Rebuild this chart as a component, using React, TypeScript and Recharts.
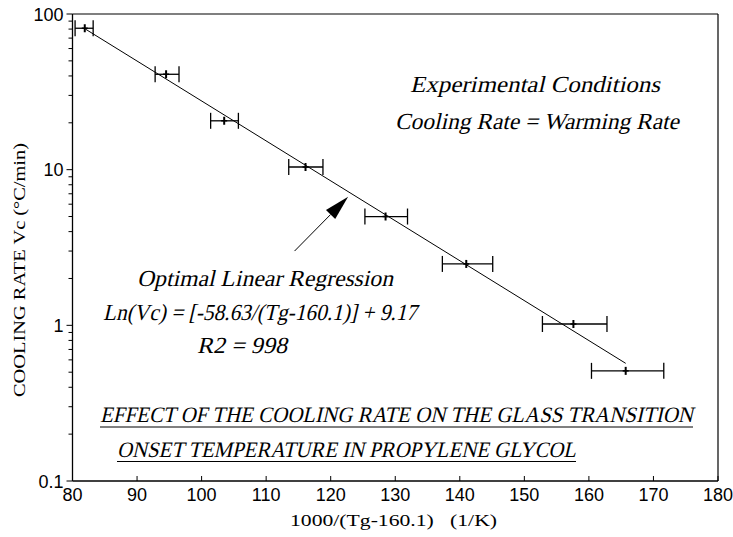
import React from 'react';
import { ScatterChart, Scatter, XAxis, YAxis, ErrorBar, ReferenceLine, Customized } from 'recharts';

// Measured points: x = 1000/(Tg-160.1), y = cooling rate (°C/min)
const rateX = [81.9, 94.5, 103.5, 116.1, 128.5, 141.0, 157.6, 165.7];
const rateY = [81, 41, 20.6, 10.4, 5.0, 2.48, 1.02, 0.51];
const errLow = [1.5, 1.7, 2.1, 2.6, 3.2, 3.7, 4.8, 5.3];
const errHigh = [1.3, 2.0, 2.2, 2.7, 3.4, 4.1, 5.2, 5.9];

// Regression line end points
const fitX = [82, 165.7];
const fitY = [80, 0.57];

// Arrow (tail -> tip)
const arrowX = [114.4, 122.7];
const arrowY = [3.0, 6.7];

const xTicks = [80, 90, 100, 110, 120, 130, 140, 150, 160, 170, 180];
const yMajor = [0.1, 1, 10, 100];
const yTicks = [
  0.1, 0.2, 0.3, 0.4, 0.5, 0.6, 0.7, 0.8, 0.9,
  1, 2, 3, 4, 5, 6, 7, 8, 9,
  10, 20, 30, 40, 50, 60, 70, 80, 90,
  100,
];

const points = rateX.map((x, i) => ({ x, y: rateY[i], err: [errLow[i], errHigh[i]] }));
const fitLine = fitX.map((x, i) => ({ x, y: fitY[i] }));

const W = 733;
const H = 537;
const M = { top: 14, right: 15, bottom: 0, left: 0 };
const YW = 72.5;
const XH = 56;
const PL = M.left + YW;
const PR = W - M.right;
const PT = M.top;
const PB = H - M.bottom - XH;

const sans = "'Liberation Sans', Arial, sans-serif";
const serif = "'Liberation Serif', 'Times New Roman', serif";

const YTick = (props: any) => {
  const { x, y, payload } = props;
  const v = payload.value;
  const major = yMajor.includes(v);
  return (
    <g>
      <line x1={x - (major ? 6 : 4)} x2={x} y1={y} y2={y} stroke="#000" strokeWidth={1} />
      {major && (
        <text x={x - 9} y={y + 6.5} textAnchor="end" fontSize={18} fontFamily={sans} fill="#000">
          {String(v)}
        </text>
      )}
    </g>
  );
};

const XTick = (props: any) => {
  const { x, y, payload } = props;
  return (
    <g>
      <line x1={x} x2={x} y1={y - 5} y2={y} stroke="#000" strokeWidth={1} />
      <text x={x} y={y + 20} textAnchor="middle" fontSize={18} fontFamily={sans} fill="#000">
        {String(payload.value)}
      </text>
    </g>
  );
};

const PlusMark = (props: any) => {
  const { cx, cy } = props;
  return (
    <g>
      <line x1={cx} x2={cx} y1={cy - 4} y2={cy + 4} stroke="#000" strokeWidth={2} />
      <line x1={cx - 3} x2={cx + 3} y1={cy} y2={cy} stroke="#000" strokeWidth={1.5} />
    </g>
  );
};

const Arrow = (props: any) => {
  const { x1, y1, x2, y2 } = props;
  const dx = x2 - x1;
  const dy = y2 - y1;
  const len = Math.sqrt(dx * dx + dy * dy) || 1;
  const ux = dx / len;
  const uy = dy / len;
  const headLen = 25;
  const headW = 6.5;
  const bx = x2 - ux * headLen;
  const by = y2 - uy * headLen;
  const px = -uy;
  const py = ux;
  return (
    <g>
      <line x1={x1} y1={y1} x2={bx} y2={by} stroke="#000" strokeWidth={1} />
      <polygon
        points={`${x2},${y2} ${bx + px * headW},${by + py * headW} ${bx - px * headW},${by - py * headW}`}
        fill="#000"
      />
    </g>
  );
};

// Slanted serif text (synthetic italic) with fixed width
const itext = (x: number, y: number, w: number, s: string, size: number, key: string) => (
  <g key={key} transform={`translate(${x} ${y}) skewX(-13)`}>
    <text
      x={0}
      y={0}
      fontSize={size}
      fontFamily={serif}
      fill="#000"
      textLength={w}
      lengthAdjust="spacingAndGlyphs"
    >
      {s}
    </text>
  </g>
);

const Annotations = () => (
  <g>
    <line x1={PL} x2={PR} y1={PT} y2={PT} stroke="#000" strokeWidth={1.2} />
    <line x1={PR} x2={PR} y1={PT} y2={PB} stroke="#000" strokeWidth={1.2} />
    {itext(410, 92, 250, 'Experimental Conditions', 23, 'a')}
    {itext(395, 129, 284, 'Cooling Rate = Warming Rate', 23, 'b')}
    {itext(137, 286, 256, 'Optimal Linear Regression', 23, 'c')}
    {itext(103, 320, 314, 'Ln(Vc) = [-58.63/(Tg-160.1)] + 9.17', 23, 'd')}
    {itext(197, 353, 90, 'R2 = 998', 23, 'e')}
    {itext(100, 422, 593, 'EFFECT OF THE COOLING RATE ON THE GLASS TRANSITION', 22, 'f')}
    <line x1={100} x2={693} y1={427} y2={427} stroke="#000" strokeWidth={1} />
    {itext(117, 457, 459, 'ONSET TEMPERATURE IN PROPYLENE GLYCOL', 22, 'g')}
    <line x1={117} x2={576} y1={461.5} y2={461.5} stroke="#000" strokeWidth={1} />
    <text
      x={25}
      y={270}
      transform="rotate(-90 25 270)"
      textAnchor="middle"
      fontSize={16}
      fontFamily={serif}
      fill="#000"
      textLength={254}
      lengthAdjust="spacingAndGlyphs"
    >
      COOLING RATE Vc (°C/min)
    </text>
    <text
      x={393.5}
      y={526}
      textAnchor="middle"
      fontSize={17}
      fontFamily={serif}
      fill="#000"
      textLength={207}
      lengthAdjust="spacingAndGlyphs"
      style={{ whiteSpace: 'pre' }}
    >
      {'1000/(Tg-160.1)   (1/K)'}
    </text>
  </g>
);

export default function App() {
  return (
    <div style={{ position: 'absolute', left: 0, top: 0, width: W, height: H, background: '#fff' }}>
      <ScatterChart width={W} height={H} margin={M}>
        <XAxis
          type="number"
          dataKey="x"
          domain={[80, 180]}
          ticks={xTicks}
          allowDataOverflow
          height={XH}
          tickSize={0}
          tickMargin={0}
          tickLine={false}
          tick={<XTick />}
          axisLine={{ stroke: '#000', strokeWidth: 1.3 }}
        />
        <YAxis
          type="number"
          dataKey="y"
          scale="log"
          domain={[0.1, 100]}
          ticks={yTicks}
          allowDataOverflow
          width={YW}
          tickSize={0}
          tickMargin={0}
          tickLine={false}
          tick={<YTick />}
          interval={0}
          axisLine={{ stroke: '#000', strokeWidth: 1.3 }}
        />
        <Scatter
          data={fitLine}
          line={{ stroke: '#000', strokeWidth: 1 }}
          shape={() => <g />}
          isAnimationActive={false}
        />
        <Scatter data={points} shape={<PlusMark />} isAnimationActive={false}>
          <ErrorBar dataKey="err" direction="x" width={8} stroke="#000" strokeWidth={1.3} isAnimationActive={false} />
        </Scatter>
        <ReferenceLine
          segment={[
            { x: arrowX[0], y: arrowY[0] },
            { x: arrowX[1], y: arrowY[1] },
          ]}
          ifOverflow="visible"
          shape={<Arrow />}
        />
        <Customized component={<Annotations />} />
      </ScatterChart>
    </div>
  );
}
